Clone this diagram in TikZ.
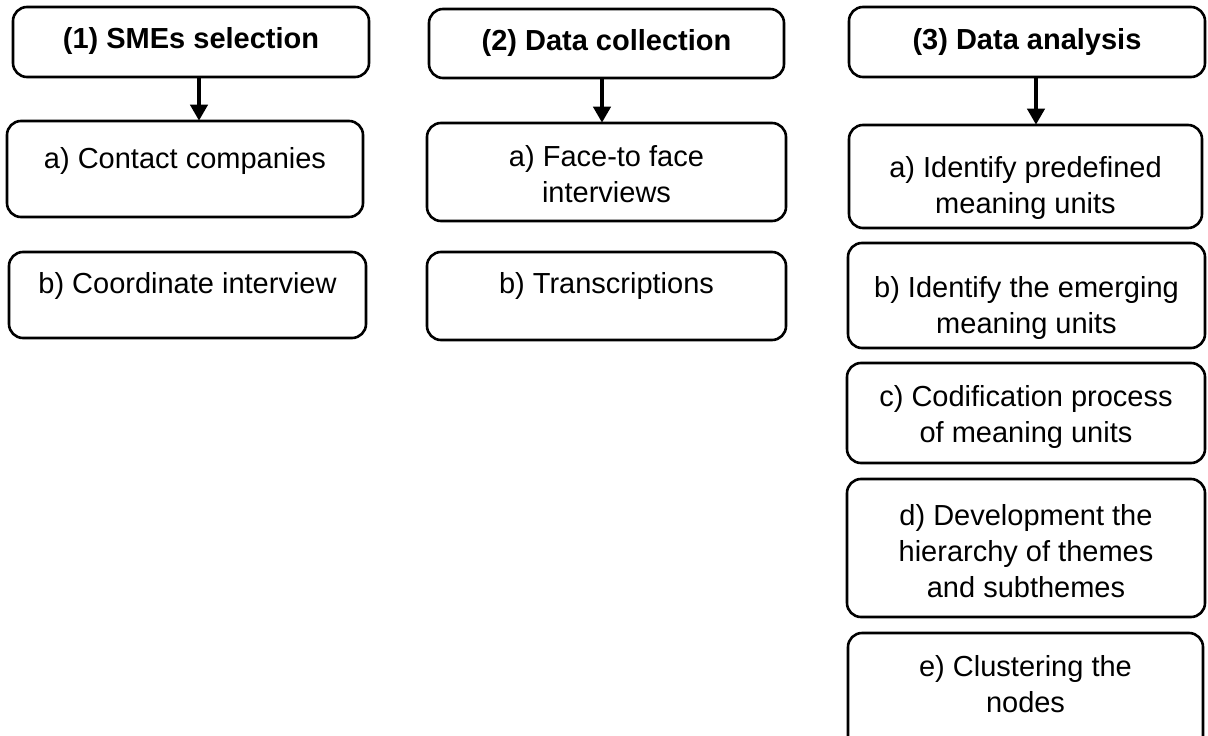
\documentclass[tikz,border=0pt]{standalone}
\usepackage{fontspec}
\setmainfont{Liberation Sans}
\usetikzlibrary{arrows.meta}

\tikzset{
  stepbox/.style={draw, line width=2.6pt, rounded corners=14pt, inner sep=0pt, fill=white},
  % multi-line texts are placed by the baseline of their last line
  txt/.style={font=\fontsize{29}{36}\selectfont, align=center, anchor=base, inner sep=0pt},
  head/.style={font=\bfseries\fontsize{29}{36}\selectfont, anchor=base, inner sep=0pt},
  flow/.style={line width=4pt, -{Triangle[width=17pt,length=16pt]}, shorten >=-1pt}
}

\begin{document}
\begin{tikzpicture}[x=1pt, y=-1pt]
  \useasboundingbox (0,0) rectangle (1208,736);

  % column 1: SMEs selection
  \node[stepbox, minimum width=356pt, minimum height=70pt] (h1) at (191,42) {};
  \node[head] (h1t) at (191,48) {(1) SMEs selection};
  \node[stepbox, minimum width=356pt, minimum height=96pt] (a1) at (185,169) {};
  \node[txt] (a1t) at (185,168) {a) Contact companies};
  \node[stepbox, minimum width=357pt, minimum height=86pt] (b1) at (187.5,295) {};
  \node[txt] (b1t) at (187.5,293) {b) Coordinate interview};

  % column 2: Data collection
  \node[stepbox, minimum width=355pt, minimum height=69pt] (h2) at (606.5,43.5) {};
  \node[head] (h2t) at (606.5,50) {(2) Data collection};
  \node[stepbox, minimum width=359pt, minimum height=98pt] (a2) at (606.5,172) {};
  \node[txt] (a2t) at (606.5,202) {a) Face-to face\\interviews};
  \node[stepbox, minimum width=359pt, minimum height=88pt] (b2) at (606.5,296) {};
  \node[txt] (b2t) at (606.5,293) {b) Transcriptions};

  % column 3: Data analysis
  \node[stepbox, minimum width=356pt, minimum height=70pt] (h3) at (1027,42) {};
  \node[head] (h3t) at (1027,49) {(3) Data analysis};
  \node[stepbox, minimum width=353pt, minimum height=103pt] (a3) at (1025.5,176.5) {};
  \node[txt] (a3t) at (1025.5,213) {a) Identify predefined\\meaning units};
  \node[stepbox, minimum width=357pt, minimum height=105pt] (b3) at (1026.5,295.5) {};
  \node[txt] (b3t) at (1026.5,333) {b) Identify the emerging\\meaning units};
  \node[stepbox, minimum width=358pt, minimum height=100pt] (c3) at (1026,413) {};
  \node[txt] (c3t) at (1026,442) {c) Codification process\\of meaning units};
  \node[stepbox, minimum width=358pt, minimum height=138pt] (d3) at (1026,548) {};
  \node[txt] (d3t) at (1026,597) {d) Development the\\hierarchy of themes\\and subthemes};
  \node[stepbox, minimum width=355pt, minimum height=137pt] (e3) at (1025.5,701.5) {};
  \node[txt] (e3t) at (1025.5,712) {e) Clustering the\\nodes};

  % arrows from each phase to its first step
  \draw[flow] ([xshift=8pt]h1.south) -- ([xshift=8pt]h1.south |- a1.north);
  \draw[flow] ([xshift=-4.5pt]h2.south) -- ([xshift=-4.5pt]h2.south |- a2.north);
  \draw[flow] ([xshift=9pt]h3.south) -- ([xshift=9pt]h3.south |- a3.north);
\end{tikzpicture}
\end{document}
